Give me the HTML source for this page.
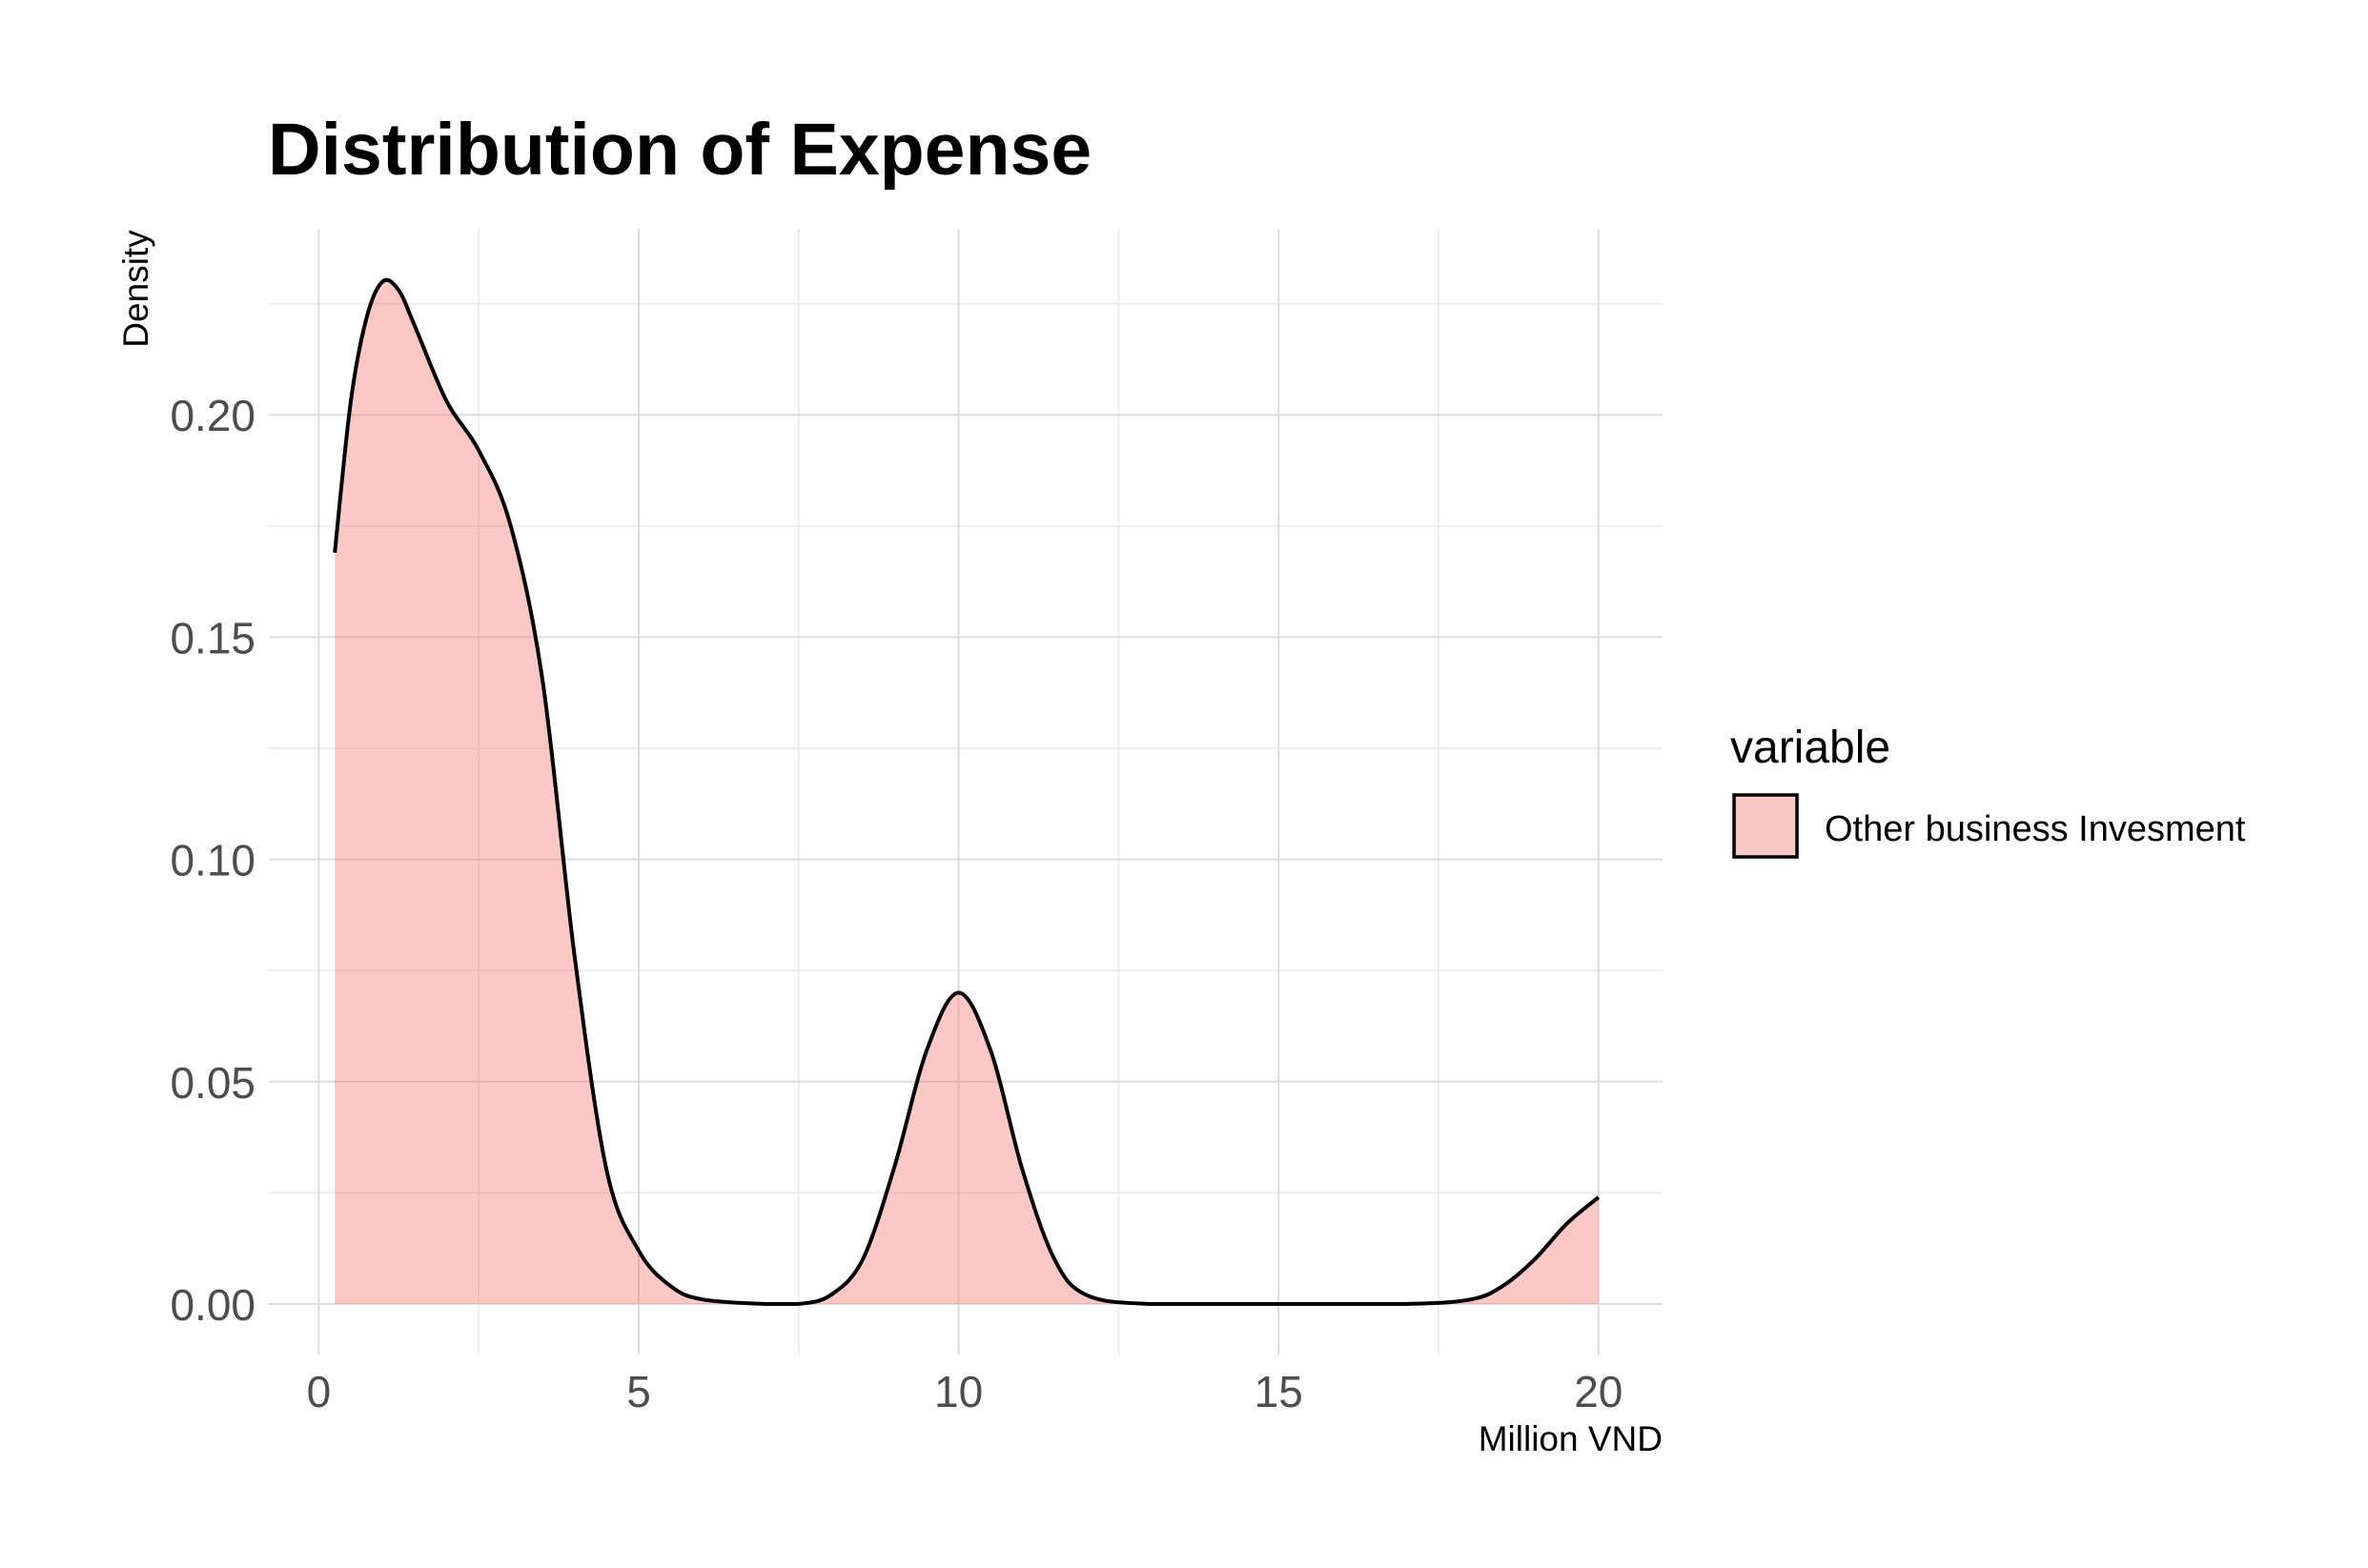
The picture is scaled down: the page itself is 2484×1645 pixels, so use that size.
<!DOCTYPE html>
<html><head><meta charset="utf-8"><style>
body{margin:0;background:#fff;}
svg text{font-family:"Liberation Sans",Arial,sans-serif;}
</style></head><body>
<svg id="chart" width="2484" height="1640" xmlns="http://www.w3.org/2000/svg">
<rect width="2484" height="1640" fill="#fff"/>
<g id="grid"></g>
<g id="marks"></g>
<g id="axes"></g>
<text x="281" y="183" font-size="77" font-weight="bold" fill="#000">Distribution of Expense</text>
<text transform="translate(155,303) rotate(-90)" font-size="37" fill="#000" text-anchor="middle">Density</text>
<text x="1744" y="1522" font-size="37" fill="#000" text-anchor="end">Million VND</text>
<g>
<text x="1815" y="800" font-size="48" fill="#000">variable</text>
<rect x="1819" y="834" width="66" height="65" fill="#f9c8c4" stroke="#000" stroke-width="3.5"/>
<text x="1914" y="882" font-size="38" fill="#000">Other business Invesment</text>
</g>
</svg>
<script>
const xs=[0.25,0.5,0.75,1.0,1.25,1.5,2.0,2.5,3.0,3.5,4.0,4.5,5.0,5.5,6.0,7.0,7.5,8.0,8.5,9.0,9.5,10.0,10.5,11.0,11.5,12.0,13.0,15.0,17.0,18.0,18.5,19.0,19.5,20.0];
const densities=[0.169,0.203,0.222,0.230,0.228,0.220,0.203,0.192,0.175,0.140,0.078,0.030,0.012,0.004,0.001,0.0,0.0,0.002,0.010,0.031,0.057,0.070,0.057,0.030,0.010,0.002,0.0,0.0,0.0,0.001,0.004,0.010,0.018,0.024];
const xTicks=[0,5,10,15,20];
const xTickLabels=["0","5","10","15","20"];
const yTicks=[0,0.05,0.10,0.15,0.20];
const yTickLabels=["0.00","0.05","0.10","0.15","0.20"];
const X0=282,X1=1744,Y0=240,Y1=1421;
const sx=v=>334.4+v*(1676.8-334.4)/20;
const sy=v=>1368-v*(1368-435.2)/0.2;
const NS="http://www.w3.org/2000/svg";
function mk(t,a,p){const e=document.createElementNS(NS,t);for(const k in a)e.setAttribute(k,a[k]);p.appendChild(e);return e;}
const grid=document.getElementById('grid'),marks=document.getElementById('marks'),axes=document.getElementById('axes');
for(let v=-2.5;v<=22.5;v+=5){const x=sx(v);if(x<X0||x>X1)continue;
const l=mk('line',{x1:x,x2:x,y1:Y0,y2:Y1,stroke:'#ebebeb','stroke-width':1.7},grid);
}
for(let v=-0.025;v<=0.25;v+=0.05){const y=sy(v);if(y<Y0||y>Y1)continue;
const l=mk('line',{x1:X0,x2:X1,y1:y,y2:y,stroke:'#ebebeb','stroke-width':1.7},grid);
}
xTicks.forEach((v,i)=>{const x=sx(v);
const l=mk('line',{x1:x,x2:x,y1:Y0,y2:Y1,stroke:'#dcdcdc','stroke-width':2},grid);

const t=mk('text',{x:x,y:1476,'font-size':46,fill:'#4d4d4d','text-anchor':'middle'},axes);t.textContent=xTickLabels[i];
});
yTicks.forEach((v,i)=>{const y=sy(v);
const l=mk('line',{x1:X0,x2:X1,y1:y,y2:y,stroke:'#dcdcdc','stroke-width':2},grid);

const t=mk('text',{x:268,y:y+17,'font-size':46,fill:'#4d4d4d','text-anchor':'end'},axes);t.textContent=yTickLabels[i];
});
const P=xs.map((v,i)=>[sx(v),sy(densities[i])]);
let d='M'+P[0][0]+','+P[0][1];
for(let i=0;i<P.length-1;i++){const p0=P[Math.max(0,i-1)],p1=P[i],p2=P[i+1],p3=P[Math.min(P.length-1,i+2)];
const c1=[p1[0]+(p2[0]-p0[0])/6,p1[1]+(p2[1]-p0[1])/6],c2=[p2[0]-(p3[0]-p1[0])/6,p2[1]-(p3[1]-p1[1])/6];
d+=' C'+c1[0]+','+Math.min(c1[1],sy(0))+' '+c2[0]+','+Math.min(c2[1],sy(0))+' '+p2[0]+','+p2[1];}
const area=mk('path',{d:d+' L'+P[P.length-1][0]+','+sy(0)+' L'+P[0][0]+','+sy(0)+' Z',fill:'#f8766d','fill-opacity':0.4,stroke:'none'},marks);

const line=mk('path',{d:d,fill:'none',stroke:'#000','stroke-width':4,'stroke-linejoin':'round'},marks);

</script>
</body></html>
